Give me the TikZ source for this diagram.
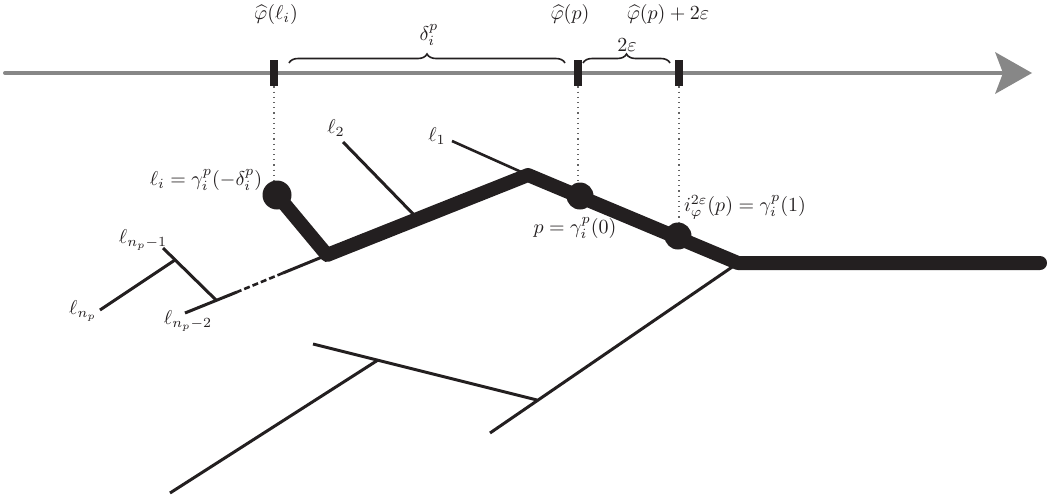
\documentclass[tikz,border=0pt]{standalone}
\usetikzlibrary{decorations.pathreplacing}
\definecolor{inkc}{RGB}{35,31,32}
\definecolor{axisc}{RGB}{135,135,135}
\definecolor{dotc}{RGB}{100,100,100}
\begin{document}
\begin{tikzpicture}[x=0.5pt,y=-0.5pt,
  axisline/.style={draw=axisc,line width=2pt},
  tickbox/.style={fill=inkc,draw=none,minimum width=4pt,minimum height=13pt,inner sep=0pt},
  ballc/.style={circle,fill=inkc,draw=none,inner sep=0pt,minimum size=#1},
  branchth/.style={draw=inkc,line width=7pt,line join=round,line cap=round},
  twig/.style={draw=inkc,line width=1.5pt},
  twigdash/.style={draw=inkc,line width=1.3pt,dash pattern=on 3pt off 1.5pt},
  guide/.style={draw=dotc,line width=0.6pt,dotted},
  bracec/.style={draw=inkc,line width=0.8pt,decorate,decoration={brace,amplitude=4.5pt}},
  lbl/.style={inner sep=0pt,text=inkc}
]
\useasboundingbox (0,0) rectangle (1047,499);

% axis
\coordinate (ax0) at (5,73);
\coordinate (ax1) at (1002,73);
\draw[axisline,line cap=round] (ax0) -- (ax1);
\fill[axisc] (995,52) -- (1032,73) -- (995,94) -- (1003,73) -- cycle;

% ticks
\node[tickbox] (t1) at (274,73) {};
\node[tickbox] (t2) at (578,73) {};
\node[tickbox] (t3) at (679,73) {};

% top labels
\node[lbl] (lab1) at (276,14) {$\widehat{\varphi}(\ell_i)$};
\node[lbl] (lab2) at (570,14) {$\widehat{\varphi}(p)$};
\node[lbl] (lab3) at (668,14) {$\widehat{\varphi}(p)+2\varepsilon$};

% braces
\coordinate (b1s) at (289,63);
\coordinate (b1e) at (565,63);
\coordinate (b2s) at (583,63);
\coordinate (b2e) at (670,63);
\draw[bracec] (b1s) -- (b1e);
\draw[bracec] (b2s) -- (b2e);
\node[lbl] (dl) at (429,35) {$\delta_i^p$};
\node[lbl] (ee) at (627,45) {$2\varepsilon$};

% tree coordinates
\coordinate (li) at (277,195);
\coordinate (a) at (327,255);
\coordinate (b) at (528,175);
\coordinate (p) at (580,196);
\coordinate (ie) at (678,236);
\coordinate (c) at (738,263);
\coordinate (e) at (1040,263);

% thin branches
\coordinate (l2e) at (343,142);
\coordinate (l2j) at (418,219);
\coordinate (l1e) at (452,141);
\draw[twig] (l2e) -- (l2j);
\draw[twig,line width=1.3pt] (l1e) -- (b);

\coordinate (d1) at (283,273);
\coordinate (d2) at (237,292);
\coordinate (d3) at (185,313);
\coordinate (nj) at (216,300);
\coordinate (n1e) at (163,248);
\coordinate (n1j) at (175,260);
\coordinate (npe) at (100,310);
\draw[twig] (a) -- (d1);
\draw[twigdash] (d1) -- (d2);
\draw[twig] (d2) -- (d3);
\draw[twig] (n1e) -- (nj);
\draw[twig] (npe) -- (n1j);

% lower tree
\coordinate (q0) at (490,433);
\coordinate (qj) at (537,400);
\coordinate (r0) at (313,344);
\coordinate (rj) at (378,360);
\coordinate (s0) at (170,493);
\draw[twig] (q0) -- (c);
\draw[twig] (r0) -- (qj);
\draw[twig] (s0) -- (rj);

% thick path
\draw[branchth] (li) -- (a) -- (b) -- (c) -- (e);

% balls
\node[ballc=14.5pt] (bli) at (li) {};
\node[ballc=13.5pt] (bp) at (p) {};
\node[ballc=13.5pt] (bie) at (ie) {};

% guides
\draw[guide] (t1.south) -- (t1.south |- bli.north);
\draw[guide] (t2.south) -- (t2.south |- bp.north);
\draw[guide] (t3.south) -- (t3.south |- bie.north);

% labels
\node[lbl] (lli) at (206,180) {$\ell_i=\gamma_i^p(-\delta_i^p)$};
\node[lbl] (lp) at (575,228) {$p=\gamma_i^p(0)$};
\node[lbl] (lie) at (745,207) {$i_\varphi^{2\varepsilon}(p)=\gamma_i^p(1)$};
\node[lbl] (l1) at (437,136) {$\ell_1$};
\node[lbl] (l2) at (336,128) {$\ell_2$};
\node[lbl] (ln1) at (143,240) {$\ell_{n_p-1}$};
\node[lbl] (ln2) at (188,321) {$\ell_{n_p-2}$};
\node[lbl] (lnp) at (83,311) {$\ell_{n_p}$};
\end{tikzpicture}
\end{document}
